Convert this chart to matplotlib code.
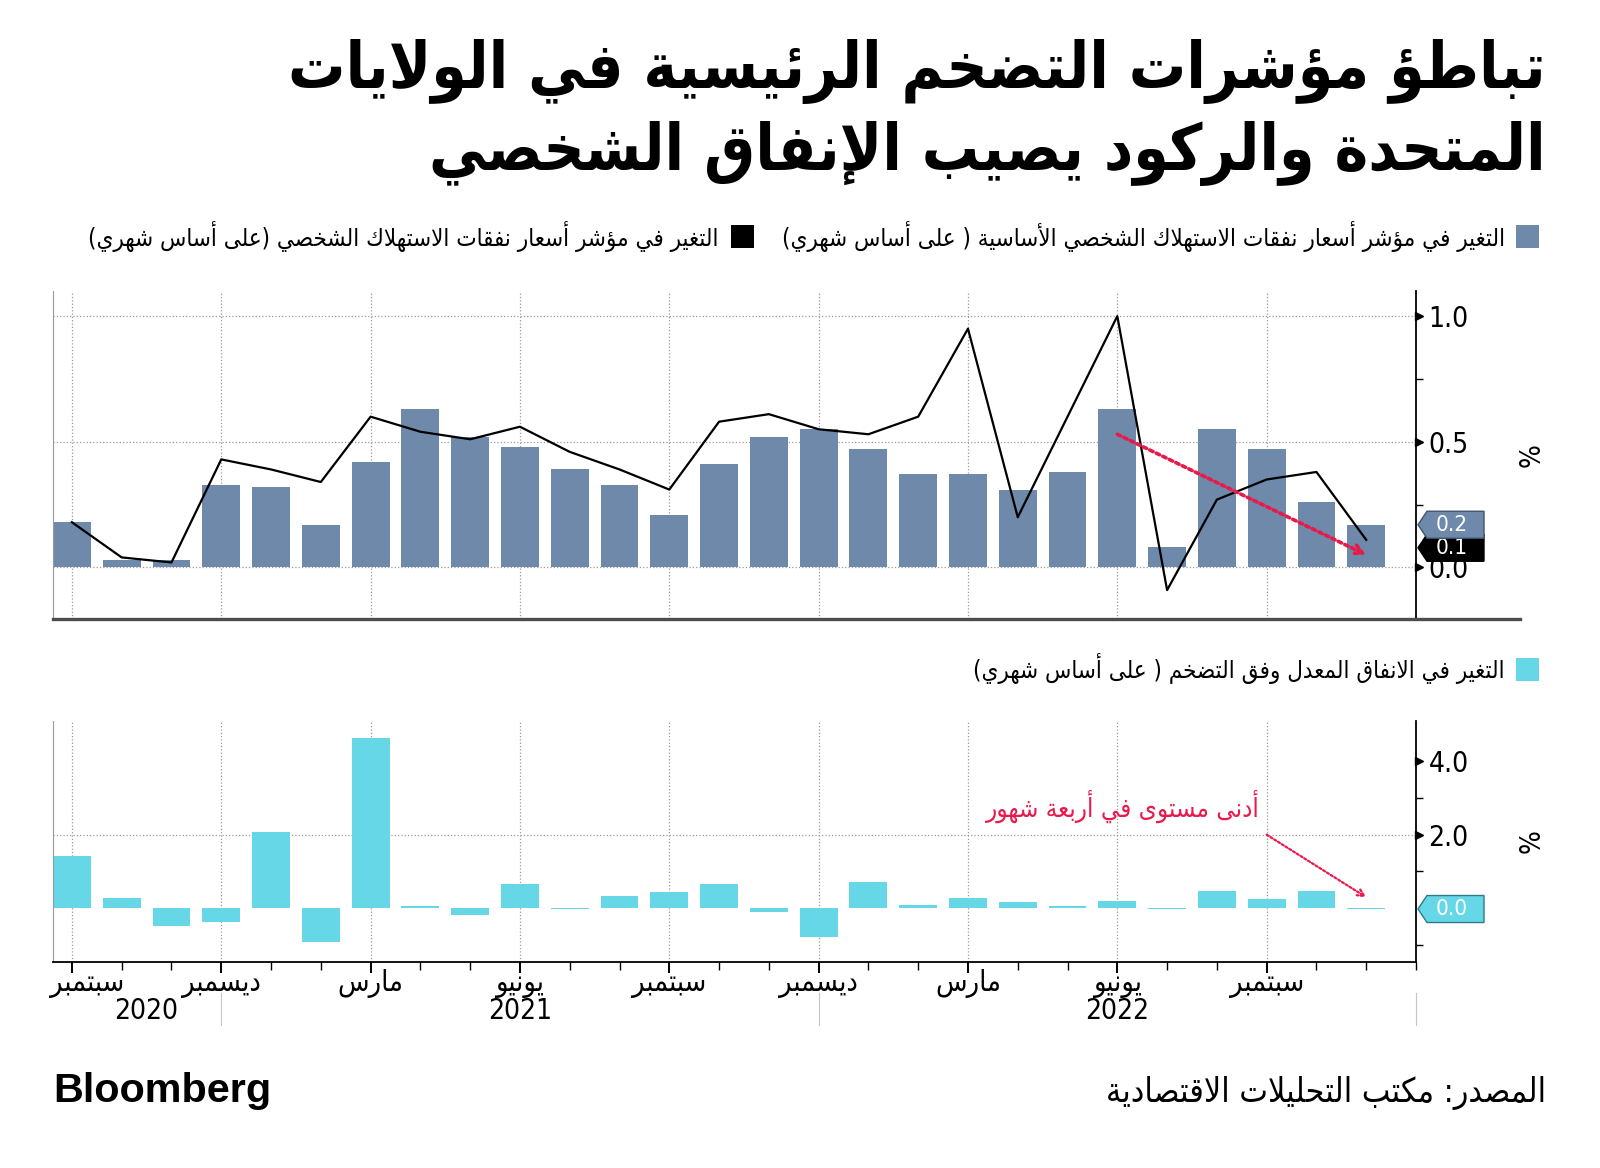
import os
import matplotlib
matplotlib.use('Agg')
import matplotlib.pyplot as plt
import matplotlib.transforms as mtransforms
from matplotlib import font_manager
from matplotlib.ft2font import FT2Font
from matplotlib.patches import Polygon, Rectangle
from matplotlib.lines import Line2D
import numpy as np

# ---- data: monthly change, Sep 2020 .. Nov 2022 ----
core_pce = [0.18, 0.03, 0.03, 0.33, 0.32, 0.17, 0.42, 0.63, 0.52, 0.48, 0.39, 0.33, 0.21, 0.41,
            0.52, 0.55, 0.47, 0.37, 0.37, 0.31, 0.38, 0.63, 0.08, 0.55, 0.47, 0.26, 0.17]
headline_pce = [0.18, 0.04, 0.02, 0.43, 0.39, 0.34, 0.60, 0.54, 0.51, 0.56, 0.46, 0.39, 0.31, 0.58,
                0.61, 0.55, 0.53, 0.60, 0.95, 0.20, 0.60, 1.00, -0.09, 0.27, 0.35, 0.38, 0.11]
real_spending = [1.41, 0.27, -0.47, -0.37, 2.07, -0.93, 4.63, 0.06, -0.17, 0.67, -0.03, 0.34, 0.43, 0.67,
                 -0.11, -0.77, 0.71, 0.10, 0.29, 0.16, 0.06, 0.20, -0.03, 0.47, 0.26, 0.47, -0.02]

tick_pos = [0, 3, 6, 9, 12, 15, 18, 21, 24]
tick_months = ['سبتمبر', 'ديسمبر', 'مارس', 'يونيو', 'سبتمبر', 'ديسمبر', 'مارس', 'يونيو', 'سبتمبر']
year_labels = ['2020', '2021', '2022']
year_pos = [1.5, 9, 21]
year_breaks = [3, 15, 27]

top_ticks = [0.0, 0.5, 1.0]
top_minor = [0.25, 0.75]
bot_ticks = [2.0, 4.0]
bot_minor = [-1.0, 1.0, 3.0]

title_lines = ['تباطؤ مؤشرات التضخم الرئيسية في الولايات',
               'المتحدة والركود يصيب الإنفاق الشخصي']
legend_core = 'التغير في مؤشر أسعار نفقات الاستهلاك الشخصي الأساسية ( على أساس شهري)'
legend_head = 'التغير في مؤشر أسعار نفقات الاستهلاك الشخصي (على أساس شهري)'
legend_real = 'التغير في الانفاق المعدل وفق التضخم ( على أساس شهري)'
note_text = 'أدنى مستوى في أربعة شهور'
source_text = 'المصدر: مكتب التحليلات الاقتصادية'

BLUE = '#6f89ab'
CYAN = '#66d7e6'
RED = '#e8194b'
GRID = '#9a9a9a'

# ---- minimal arabic shaping (matplotlib has no complex text layout) ----
AR = {
    '\u0621': (0xFE80, 1), '\u0622': (0xFE81, 2), '\u0623': (0xFE83, 2), '\u0624': (0xFE85, 2),
    '\u0625': (0xFE87, 2), '\u0626': (0xFE89, 4), '\u0627': (0xFE8D, 2), '\u0628': (0xFE8F, 4),
    '\u0629': (0xFE93, 2), '\u062A': (0xFE95, 4), '\u062B': (0xFE99, 4), '\u062C': (0xFE9D, 4),
    '\u062D': (0xFEA1, 4), '\u062E': (0xFEA5, 4), '\u062F': (0xFEA9, 2), '\u0630': (0xFEAB, 2),
    '\u0631': (0xFEAD, 2), '\u0632': (0xFEAF, 2), '\u0633': (0xFEB1, 4), '\u0634': (0xFEB5, 4),
    '\u0635': (0xFEB9, 4), '\u0636': (0xFEBD, 4), '\u0637': (0xFEC1, 4), '\u0638': (0xFEC5, 4),
    '\u0639': (0xFEC9, 4), '\u063A': (0xFECD, 4), '\u0641': (0xFED1, 4), '\u0642': (0xFED5, 4),
    '\u0643': (0xFED9, 4), '\u0644': (0xFEDD, 4), '\u0645': (0xFEE1, 4), '\u0646': (0xFEE5, 4),
    '\u0647': (0xFEE9, 4), '\u0648': (0xFEED, 2), '\u0649': (0xFEEF, 2), '\u064A': (0xFEF1, 4),
}
LAM_ALEF = {'\u0622': 0xFEF5, '\u0623': 0xFEF7, '\u0625': 0xFEF9, '\u0627': 0xFEFB}


def shape(text):
    out = []
    n = len(text)
    i = 0
    while i < n:
        c = text[i]
        if c not in AR:
            out.append(c)
            i += 1
            continue
        prev = text[i - 1] if i > 0 else ''
        linked_prev = prev in AR and AR[prev][1] == 4
        if c == '\u0644' and i + 1 < n and text[i + 1] in LAM_ALEF:
            out.append(chr(LAM_ALEF[text[i + 1]] + (1 if linked_prev else 0)))
            i += 2
            continue
        base, forms = AR[c]
        nxt = text[i + 1] if i + 1 < n else ''
        linked_next = forms == 4 and nxt in AR
        if forms == 1:
            code = base
        elif forms == 2:
            code = base + (1 if linked_prev else 0)
        elif linked_prev and linked_next:
            code = base + 3
        elif linked_prev:
            code = base + 1
        elif linked_next:
            code = base + 2
        else:
            code = base
        out.append(chr(code))
        i += 1
    s = ''.join(out)[::-1]
    return s.translate(str.maketrans('()', ')('))


# ---- fonts ----
def font_file(names, need_arabic=True):
    files = {os.path.basename(f.fname): f.fname for f in font_manager.fontManager.ttflist}
    for nm in names:
        path = files.get(nm)
        if path is None:
            continue
        if need_arabic:
            try:
                if 0xFEDF not in FT2Font(path).get_charmap():
                    continue
            except Exception:
                continue
        return font_manager.FontProperties(fname=path)
    return None


ar_reg = font_file(['DejaVuSansCondensed.ttf', 'DejaVuSans.ttf']) or font_manager.FontProperties(family='DejaVu Sans')
ar_bold = font_file(['DejaVuSansCondensed-Bold.ttf', 'DejaVuSans-Bold.ttf']) or \
    font_manager.FontProperties(family='DejaVu Sans', weight='bold')
num_base = font_file(['LiberationSansNarrow-Regular.ttf', 'DejaVuSansCondensed.ttf', 'DejaVuSans.ttf'],
                     need_arabic=False) or font_manager.FontProperties(family='DejaVu Sans')

W, H = 1600, 1168
fig = plt.figure(figsize=(16, 11.68), dpi=100)
renderer = fig.canvas.get_renderer()


def fx(px):
    return px / W


def fy(py):
    return 1 - py / H


def sized(fp, text, width_px):
    # font size so that text spans width_px pixels
    p = fp.copy()
    p.set_size(20)
    t = fig.text(0, 0, text, fontproperties=p)
    w = t.get_window_extent(renderer).width
    t.remove()
    p.set_size(20 * width_px / w)
    return p


num_fp = sized(num_base, '1.0', 40)
tag_fp = sized(num_base, '0.2', 32)
month_fp = sized(ar_reg, shape('سبتمبر'), 74)

# ---- axes ----
ax1 = fig.add_axes([fx(53), fy(619), (1416 - 53) / W, (619 - 291) / H])
ax2 = fig.add_axes([fx(53), fy(962), (1416 - 53) / W, (962 - 721) / H])

X = np.arange(len(core_pce))

ax1.bar(X, core_pce, width=0.76, color=BLUE, zorder=2)
ax1.plot(X, headline_pce, color='black', lw=1.6, zorder=3)
ax2.bar(X, real_spending, width=0.76, color=CYAN, zorder=2)

ax1.set_ylim(-0.205, 1.10)
ax2.set_ylim(-1.46, 5.09)

for ax, ticks, minor in [(ax1, top_ticks, top_minor), (ax2, bot_ticks, bot_minor)]:
    ax.set_xlim(-0.38, 27.0)
    ax.set_xticks(tick_pos)
    ax.yaxis.tick_right()
    ax.set_yticks(ticks)
    ax.set_yticklabels([f'{t:.1f}' for t in ticks], fontproperties=num_fp)
    ax.set_yticks(minor, minor=True)
    ax.tick_params(axis='y', which='major', length=0, pad=9)
    ax.tick_params(axis='y', which='minor', length=5, width=1, color='black', direction='out')
    ax.grid(True, axis='x', color=GRID, ls=':', lw=0.9)
    ax.set_axisbelow(True)
    ax.spines['top'].set_visible(False)
    ax.spines['left'].set_color('#9a9a9a')
    ax.spines['left'].set_linewidth(0.8)
    ax.spines['right'].set_color('black')
    ax.spines['right'].set_linewidth(1.3)
    # little triangles on the value axis
    tr = mtransforms.blended_transform_factory(ax.transAxes, ax.transData) + \
        mtransforms.ScaledTranslation(2 / 72, 0, fig.dpi_scale_trans)
    ax.plot(np.ones(len(ticks)), ticks, ls='none', marker='>', ms=6, color='black',
            transform=tr, clip_on=False, zorder=5)
    ax.text(1.085, 0.5, '%', transform=ax.transAxes, rotation=90, ha='center', va='center',
            fontproperties=num_fp)

ax1.grid(True, axis='y', color=GRID, ls=':', lw=0.9)
ax1.spines['bottom'].set_visible(False)
ax1.tick_params(axis='x', length=0, labelbottom=False)

ax2.axhline(2.0, color=GRID, ls=':', lw=0.9, zorder=1)
ax2.spines['bottom'].set_color('black')
ax2.spines['bottom'].set_linewidth(1.3)
ax2.set_xticks(np.arange(0, 28), minor=True)
ax2.set_xticklabels([])
ax2.tick_params(axis='x', which='minor', length=6, width=1, color='black', direction='out')
ax2.tick_params(axis='x', which='major', length=8, width=1.4, color='black', direction='out')

blend2 = mtransforms.blended_transform_factory(ax2.transData, ax2.transAxes)
for k, (p, lab) in enumerate(zip(tick_pos, tick_months)):
    # first label is nudged right so it stays inside the plot edge
    ax2.text(p + (0.3 if k == 0 else 0), -0.09, shape(lab), transform=blend2, ha='center', va='center',
             fontproperties=month_fp)
for p, lab in zip(year_pos, year_labels):
    ax2.text(p, -0.205, lab, transform=blend2, ha='center', va='center', fontproperties=num_fp)
for b in year_breaks:
    ax2.plot([b, b], [-0.13, -0.26], transform=blend2, color='#c4c4c4', lw=0.8, clip_on=False)

# annotations
ax1.annotate('', xy=(X[-1], 0.05), xytext=(21, 0.53),
             arrowprops=dict(arrowstyle='->', color=RED, lw=2.6, linestyle=(0, (1, 1)),
                             shrinkA=0, shrinkB=0, mutation_scale=16), zorder=6)
ax2.annotate('', xy=(X[-1], 0.3), xytext=(24, 2.0),
             arrowprops=dict(arrowstyle='->', color=RED, lw=1.6, linestyle=(0, (1, 1)),
                             shrinkA=0, shrinkB=0, mutation_scale=12), zorder=6)
ax2.text(23.87, 2.75, shape(note_text), ha='right', va='center', color=RED,
         fontproperties=sized(ar_reg, shape(note_text), 273))


# value tags on right axis
def tag(ax, value, face, edge, z, below=None):
    x0 = ax.transAxes.transform((1, 0))[0]
    y0 = ax.transData.transform((0, value))[1]
    h = 13.5
    if below is not None:
        # keep a stacked tag readable under the one above it
        y0 = min(y0, below - 23)
    verts = [(x0 + 2, y0), (x0 + 11, y0 + h), (x0 + 68, y0 + h), (x0 + 68, y0 - h), (x0 + 11, y0 - h)]
    fig.add_artist(Polygon(verts, closed=True, transform=mtransforms.IdentityTransform(),
                           fc=face, ec=edge, lw=1, zorder=z))
    label = f'{value:.1f}'.replace('-0.0', '0.0')
    fig.text(x0 + 36, y0, label, transform=mtransforms.IdentityTransform(),
             ha='center', va='center', color='white', fontproperties=tag_fp, zorder=z + 0.1)
    return y0


core_y = ax1.transData.transform((0, core_pce[-1]))[1]
tag(ax1, headline_pce[-1], 'black', 'black', 5, below=core_y)
tag(ax1, core_pce[-1], BLUE, '#3f546f', 6)
tag(ax2, real_spending[-1], CYAN, '#2d7b88', 6)

# panel separator
fig.add_artist(Line2D([fx(53), fx(1520)], [fy(619), fy(619)], transform=fig.transFigure,
                      color='#4d4d4d', lw=2.4))

# ---- titles, legends, footer ----
title_fp = sized(ar_bold, shape(title_lines[0]), 1257)
fig.text(fx(1546), fy(88), shape(title_lines[0]), ha='right', va='baseline', fontproperties=title_fp)
fig.text(fx(1546), fy(170), shape(title_lines[1]), ha='right', va='baseline', fontproperties=title_fp)

leg_fp = sized(ar_reg, shape(legend_core), 724)
for sq_x, txt_x, y, color, txt in [(1516, 1505, 236, BLUE, legend_core),
                                   (731, 719, 236, 'black', legend_head),
                                   (1516, 1505, 669, CYAN, legend_real)]:
    fig.add_artist(Rectangle((fx(sq_x), fy(y + 11.5)), 23 / W, 23 / H, transform=fig.transFigure,
                             fc=color, ec='none'))
    fig.text(fx(txt_x), fy(y), shape(txt), ha='right', va='center', fontproperties=leg_fp)

bb_text = fig.text(fx(53), fy(1102), 'Bloomberg', family='Liberation Sans', weight='bold',
                   ha='left', va='baseline', fontsize=30)
bb_text.set_fontsize(30 * 218 / bb_text.get_window_extent(renderer).width)
fig.text(fx(1546), fy(1102), shape(source_text), ha='right', va='baseline',
         fontproperties=sized(ar_reg, shape(source_text), 439))

fig.savefig('out.png', dpi=100, facecolor='white')
